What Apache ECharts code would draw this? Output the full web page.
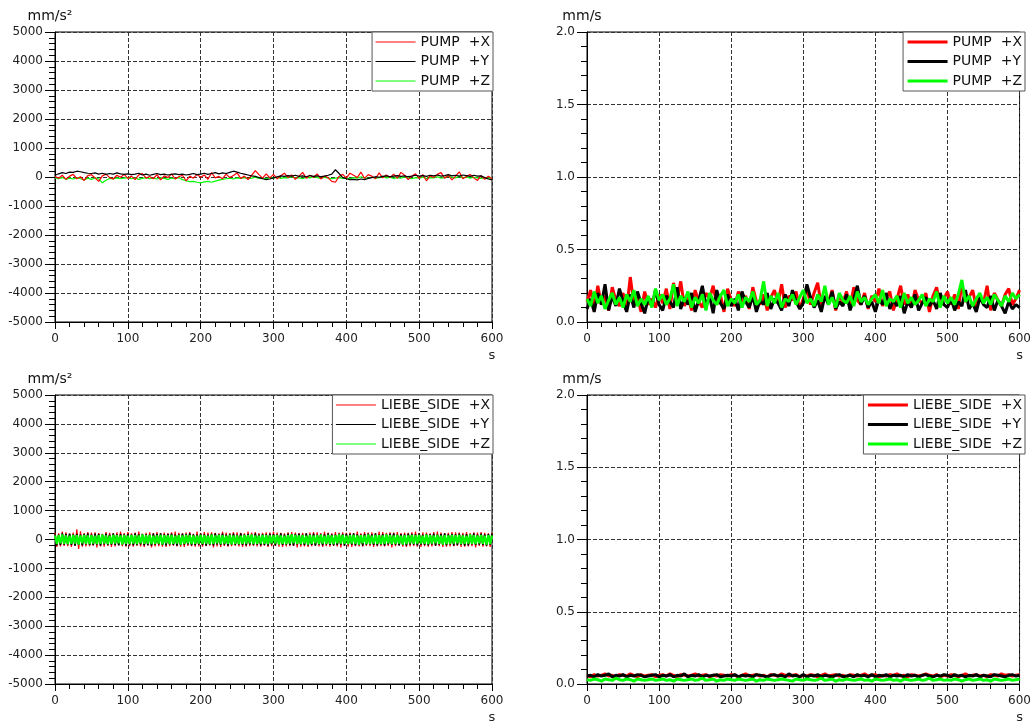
<!DOCTYPE html>
<html>
<head>
<meta charset="utf-8">
<script src="https://cdn.jsdelivr.net/npm/echarts@6/dist/echarts.min.js"></script>
<style>
  html, body { margin: 0; padding: 0; background: #fff; }
  #chart { width: 1034px; height: 724px; }
</style>
</head>
<body>
<div id="chart"></div>
<script>
// time stamps (s), 5 s step
const T = [0,5,10,15,20,25,30,35,40,45,50,55,60,65,70,75,80,85,90,95,
  100,105,110,115,120,125,130,135,140,145,150,155,160,165,170,175,180,185,190,195,
  200,205,210,215,220,225,230,235,240,245,250,255,260,265,270,275,280,285,290,295,
  300,305,310,315,320,325,330,335,340,345,350,355,360,365,370,375,380,385,390,395,
  400,405,410,415,420,425,430,435,440,445,450,455,460,465,470,475,480,485,490,495,
  500,505,510,515,520,525,530,535,540,545,550,555,560,565,570,575,580,585,590,595,600];

// time stamps (s), 2.5 s step, for the dense LIEBE_SIDE acceleration band
const T2 = [0,2.5,5,7.5,10,12.5,15,17.5,20,22.5,25,27.5,30,32.5,35,37.5,40,42.5,45,47.5,
  50,52.5,55,57.5,60,62.5,65,67.5,70,72.5,75,77.5,80,82.5,85,87.5,90,92.5,95,97.5,
  100,102.5,105,107.5,110,112.5,115,117.5,120,122.5,125,127.5,130,132.5,135,137.5,140,142.5,145,147.5,
  150,152.5,155,157.5,160,162.5,165,167.5,170,172.5,175,177.5,180,182.5,185,187.5,190,192.5,195,197.5,
  200,202.5,205,207.5,210,212.5,215,217.5,220,222.5,225,227.5,230,232.5,235,237.5,240,242.5,245,247.5,
  250,252.5,255,257.5,260,262.5,265,267.5,270,272.5,275,277.5,280,282.5,285,287.5,290,292.5,295,297.5,
  300,302.5,305,307.5,310,312.5,315,317.5,320,322.5,325,327.5,330,332.5,335,337.5,340,342.5,345,347.5,
  350,352.5,355,357.5,360,362.5,365,367.5,370,372.5,375,377.5,380,382.5,385,387.5,390,392.5,395,397.5,
  400,402.5,405,407.5,410,412.5,415,417.5,420,422.5,425,427.5,430,432.5,435,437.5,440,442.5,445,447.5,
  450,452.5,455,457.5,460,462.5,465,467.5,470,472.5,475,477.5,480,482.5,485,487.5,490,492.5,495,497.5,
  500,502.5,505,507.5,510,512.5,515,517.5,520,522.5,525,527.5,530,532.5,535,537.5,540,542.5,545,547.5,
  550,552.5,555,557.5,560,562.5,565,567.5,570,572.5,575,577.5,580,582.5,585,587.5,590,592.5,595,597.5,600];

// PUMP acceleration (mm/s²)
const pumpAccX = [20,-40,60,-80,30,90,-60,10,-120,50,80,-30,-150,40,100,-20,-70,60,-10,90,
  -50,30,-90,70,120,-40,20,-60,80,-100,40,-20,110,-70,10,60,-130,30,-40,90,
  -10,70,-80,150,-30,20,-60,100,-20,50,140,-50,30,-90,60,220,80,-40,110,-30,
  90,-60,40,130,-20,70,-80,30,160,-40,60,-10,110,-70,40,-30,-150,-180,20,90,
  -40,130,60,-20,170,-50,80,30,-60,140,-30,70,-20,100,-40,160,60,-90,30,110,
  -50,80,-130,40,-20,90,150,-40,60,-100,30,180,-60,20,90,-30,-120,50,-80,30,-60];
const pumpAccY = [60,110,150,120,170,160,200,180,150,130,120,140,100,130,90,120,100,140,110,90,
  110,80,100,130,70,100,60,90,120,80,100,70,90,110,80,100,70,90,120,80,
  100,130,90,120,150,110,140,120,160,200,170,130,100,70,40,20,-20,-60,-90,-70,
  -30,10,40,20,50,30,60,20,40,10,50,20,40,10,30,60,100,250,120,-20,
  -60,-90,-80,-100,-70,-90,-50,-20,10,-10,20,40,10,30,50,20,40,10,30,60,
  30,50,20,60,40,70,30,50,80,40,60,30,70,50,20,60,30,40,-20,-70,-100];
const pumpAccZ = [-30,-60,-20,-80,-40,-70,-20,-60,-100,-40,-80,-30,-60,-200,-110,-50,-70,-30,-60,-40,
  -20,-60,-30,-80,-50,-20,-60,-40,-70,-30,-50,-80,-40,-60,-20,-90,-130,-160,-150,-180,
  -200,-170,-150,-180,-140,-110,-80,-60,-40,-70,-30,-50,-20,-60,-40,-10,-50,-30,-60,-20,
  -40,-10,-50,-20,-30,10,-40,-20,-60,-10,-30,20,-20,-50,-10,-30,-60,-40,-20,-50,
  -30,-60,-20,-40,10,-30,-50,-10,-40,-20,20,-30,-10,-50,-20,-40,0,-30,-60,-20,
  -40,-10,-50,-20,-30,10,-40,-20,30,-10,-30,20,-20,0,-40,-10,-30,-50,-20,-40,-30];

// PUMP velocity (mm/s)
const pumpVelX = [0.14,0.22,0.10,0.25,0.12,0.18,0.08,0.24,0.15,0.11,0.20,0.09,0.31,0.13,0.17,0.07,0.21,0.12,0.16,0.10,
  0.19,0.13,0.23,0.09,0.27,0.15,0.28,0.11,0.18,0.08,0.22,0.14,0.10,0.20,0.16,0.25,0.12,0.19,0.07,0.23,
  0.15,0.11,0.21,0.13,0.18,0.09,0.24,0.14,0.12,0.19,0.08,0.17,0.22,0.13,0.26,0.10,0.18,0.15,0.21,0.09,
  0.16,0.24,0.12,0.20,0.27,0.11,0.17,0.14,0.22,0.08,0.19,0.13,0.21,0.10,0.24,0.15,0.12,0.20,0.09,0.18,
  0.14,0.23,0.11,0.17,0.21,0.08,0.16,0.25,0.12,0.19,0.10,0.22,0.15,0.13,0.20,0.07,0.18,0.24,0.11,0.16,
  0.21,0.12,0.19,0.09,0.26,0.14,0.17,0.22,0.10,0.18,0.13,0.25,0.08,0.20,0.15,0.11,0.19,0.23,0.12,0.16,0.22];
const pumpVelY = [0.09,0.16,0.07,0.20,0.12,0.26,0.08,0.18,0.11,0.23,0.14,0.07,0.19,0.10,0.21,0.13,0.06,0.17,0.11,0.22,
  0.12,0.08,0.18,0.14,0.10,0.24,0.09,0.17,0.12,0.20,0.07,0.15,0.25,0.11,0.18,0.06,0.22,0.13,0.09,0.19,
  0.11,0.16,0.08,0.21,0.14,0.10,0.18,0.07,0.15,0.12,0.20,0.09,0.16,0.13,0.08,0.19,0.11,0.22,0.14,0.09,
  0.13,0.26,0.17,0.10,0.15,0.07,0.18,0.12,0.21,0.09,0.14,0.11,0.19,0.08,0.16,0.25,0.12,0.18,0.10,0.14,
  0.07,0.16,0.12,0.20,0.09,0.15,0.11,0.18,0.06,0.14,0.10,0.19,0.08,0.13,0.17,0.11,0.15,0.09,0.20,0.12,
  0.10,0.16,0.08,0.14,0.11,0.22,0.09,0.13,0.07,0.17,0.12,0.10,0.18,0.08,0.15,0.11,0.06,0.14,0.09,0.12,0.10];
const pumpVelZ = [0.16,0.11,0.21,0.13,0.18,0.09,0.15,0.20,0.12,0.17,0.10,0.19,0.14,0.22,0.11,0.16,0.12,0.18,0.10,0.23,
  0.15,0.19,0.12,0.16,0.26,0.11,0.18,0.14,0.21,0.10,0.17,0.13,0.19,0.08,0.20,0.15,0.12,0.18,0.22,0.11,
  0.16,0.13,0.19,0.10,0.17,0.14,0.21,0.12,0.15,0.28,0.11,0.18,0.13,0.20,0.10,0.16,0.14,0.19,0.12,0.17,
  0.22,0.13,0.16,0.11,0.19,0.14,0.25,0.12,0.17,0.10,0.20,0.15,0.13,0.18,0.11,0.21,0.14,0.17,0.12,0.16,
  0.19,0.13,0.22,0.11,0.16,0.14,0.18,0.10,0.20,0.13,0.17,0.12,0.15,0.19,0.11,0.16,0.14,0.21,0.10,0.18,
  0.13,0.17,0.12,0.19,0.29,0.14,0.18,0.11,0.16,0.20,0.13,0.17,0.12,0.19,0.15,0.11,0.18,0.14,0.20,0.16,0.19];

// LIEBE_SIDE acceleration (mm/s²), 2.5 s step
const liebeAccX = [230,-260,210,-240,270,-220,250,-230,200,-260,240,-210,350,-330,280,-250,220,-240,260,-230,
  240,-210,250,-270,220,-240,200,-250,260,-220,230,-260,210,-240,250,-200,270,-230,220,-250,
  260,-230,210,-250,240,-220,270,-240,200,-260,230,-210,250,-270,220,-240,260,-230,210,-250,
  240,-260,220,-230,250,-210,270,-240,230,-250,210,-260,240,-220,260,-230,200,-250,270,-240,
  220,-250,260,-230,240,-210,250,-270,230,-240,210,-260,270,-220,240,-250,220,-230,260,-210,
  250,-240,230,-260,210,-250,270,-230,240,-220,260,-240,220,-250,230,-210,250,-260,240,-230,
  270,-220,240,-250,230,-260,210,-240,250,-230,260,-220,240,-270,220,-250,230,-240,210,-260,
  240,-230,260,-210,250,-240,220,-260,270,-230,240,-250,210,-220,260,-240,230,-270,250,-210,
  230,-250,240,-260,220,-230,270,-240,210,-250,260,-220,240,-230,250,-260,220,-240,270,-230,
  260,-240,230,-220,250,-270,240,-230,260,-210,220,-250,240,-260,230,-240,250,-220,270,-250,
  220,-260,250,-230,240,-250,210,-240,260,-220,270,-230,240,-260,220,-250,230,-240,260,-230,
  250,-220,240,-260,230,-250,260,-240,220,-230,250,-270,240,-220,260,-250,230,-240,210,-260,240];
const liebeAccY = [180,-200,170,-190,210,-180,190,-170,200,-190,180,-210,190,-180,170,-200,190,-170,210,-190,
  170,-190,200,-180,190,-210,180,-170,200,-190,170,-180,210,-190,180,-200,190,-170,180,-210,
  190,-180,170,-200,210,-190,180,-170,190,-200,180,-190,170,-210,200,-180,190,-170,210,-190,
  180,-200,190,-170,200,-190,170,-210,180,-190,200,-180,190,-170,210,-200,180,-190,170,-180,
  200,-190,180,-210,170,-180,190,-200,210,-170,180,-190,200,-180,170,-210,190,-180,200,-190,
  170,-180,210,-190,180,-200,190,-170,180,-190,210,-180,170,-200,190,-190,180,-210,200,-170,
  190,-200,180,-170,210,-190,170,-180,200,-190,180,-210,190,-170,200,-180,170,-190,210,-200,
  180,-190,200,-210,170,-180,190,-200,180,-170,210,-190,180,-200,170,-190,200,-180,190,-210,
  200,-170,190,-180,210,-200,180,-190,170,-210,190,-180,200,-170,180,-190,210,-200,170,-180,
  190,-210,180,-170,200,-190,210,-180,170,-200,190,-190,180,-210,200,-170,190,-180,180,-200,
  210,-180,170,-190,190,-200,180,-170,200,-210,170,-180,190,-190,210,-200,180,-170,190,-210,
  180,-190,200,-180,170,-210,190,-200,180,-170,210,-190,170,-180,200,-190,180,-210,190,-180,200];
const liebeAccZ = [140,-160,150,-130,170,-150,140,-160,130,-150,160,-140,150,-170,140,-130,160,-150,140,-160,
  150,-140,130,-160,150,-150,170,-140,140,-160,130,-150,160,-140,150,-130,140,-170,160,-150,
  130,-150,160,-140,150,-160,140,-130,170,-150,150,-140,160,-160,130,-150,140,-140,160,-170,
  150,-130,140,-160,160,-150,130,-140,150,-170,140,-150,160,-130,150,-160,140,-150,130,-140,
  160,-150,150,-140,130,-160,170,-150,140,-130,160,-160,150,-140,130,-150,160,-170,140,-150,
  140,-160,130,-150,160,-140,150,-130,170,-160,140,-150,130,-140,160,-150,150,-160,140,-130,
  150,-140,160,-170,140,-150,130,-160,150,-140,170,-130,160,-150,140,-160,150,-140,130,-170,
  160,-150,140,-130,150,-160,170,-140,130,-150,160,-150,140,-160,150,-130,170,-140,160,-150,
  130,-160,150,-140,160,-150,140,-170,150,-130,140,-160,170,-150,130,-140,160,-150,150,-160,
  140,-150,170,-130,150,-160,140,-150,160,-140,130,-170,150,-160,140,-130,160,-150,150,-140,
  160,-140,130,-150,170,-160,150,-140,140,-130,160,-150,130,-170,150,-160,140,-150,160,-140,
  150,-130,160,-160,140,-150,130,-140,170,-150,150,-160,140,-130,160,-150,130,-170,150,-160,140];

// LIEBE_SIDE velocity (mm/s)
const liebeVelX = [0.06,0.05,0.065,0.055,0.06,0.07,0.055,0.06,0.05,0.065,0.06,0.055,0.07,0.06,0.05,0.065,0.055,0.06,0.065,0.05,
  0.06,0.065,0.055,0.07,0.06,0.05,0.065,0.06,0.055,0.06,0.07,0.055,0.06,0.065,0.05,0.06,0.055,0.065,0.06,0.055,
  0.065,0.06,0.05,0.06,0.07,0.055,0.06,0.065,0.055,0.06,0.05,0.065,0.06,0.055,0.07,0.06,0.055,0.06,0.065,0.05,
  0.06,0.055,0.065,0.06,0.05,0.06,0.07,0.055,0.06,0.065,0.055,0.06,0.05,0.065,0.06,0.055,0.06,0.07,0.055,0.06,
  0.065,0.05,0.06,0.055,0.065,0.06,0.07,0.055,0.06,0.05,0.065,0.06,0.055,0.06,0.07,0.06,0.055,0.065,0.05,0.06,
  0.055,0.065,0.06,0.05,0.06,0.07,0.055,0.06,0.065,0.055,0.06,0.05,0.065,0.06,0.055,0.07,0.06,0.065,0.055,0.06,0.065];
const liebeVelY = [0.055,0.06,0.05,0.065,0.055,0.06,0.07,0.05,0.06,0.055,0.065,0.05,0.06,0.055,0.065,0.06,0.05,0.055,0.06,0.065,
  0.05,0.06,0.055,0.065,0.05,0.06,0.055,0.07,0.05,0.06,0.055,0.065,0.05,0.06,0.055,0.06,0.065,0.05,0.055,0.06,
  0.055,0.065,0.05,0.06,0.055,0.06,0.05,0.065,0.06,0.055,0.05,0.06,0.065,0.055,0.06,0.05,0.07,0.055,0.06,0.05,
  0.065,0.05,0.06,0.055,0.065,0.05,0.06,0.055,0.05,0.06,0.065,0.05,0.055,0.06,0.05,0.065,0.055,0.06,0.05,0.065,
  0.05,0.06,0.055,0.065,0.05,0.06,0.055,0.06,0.05,0.065,0.055,0.06,0.05,0.06,0.065,0.055,0.05,0.06,0.055,0.065,
  0.06,0.05,0.065,0.055,0.06,0.05,0.06,0.055,0.065,0.05,0.06,0.055,0.05,0.065,0.06,0.055,0.05,0.06,0.065,0.055,0.06];
const liebeVelZ = [0.03,0.025,0.035,0.03,0.02,0.035,0.03,0.025,0.04,0.03,0.025,0.035,0.03,0.02,0.035,0.03,0.025,0.03,0.035,0.025,
  0.03,0.035,0.025,0.03,0.02,0.035,0.03,0.025,0.03,0.035,0.025,0.03,0.04,0.025,0.03,0.035,0.02,0.03,0.025,0.035,
  0.03,0.025,0.035,0.03,0.025,0.03,0.035,0.02,0.03,0.025,0.035,0.03,0.025,0.03,0.035,0.03,0.025,0.02,0.035,0.03,
  0.025,0.035,0.03,0.025,0.03,0.04,0.025,0.03,0.035,0.02,0.03,0.025,0.035,0.03,0.025,0.03,0.035,0.025,0.03,0.02,
  0.035,0.03,0.025,0.03,0.035,0.025,0.03,0.02,0.035,0.03,0.025,0.03,0.035,0.025,0.03,0.04,0.025,0.03,0.035,0.025,
  0.03,0.025,0.035,0.03,0.02,0.03,0.035,0.025,0.03,0.035,0.025,0.03,0.02,0.035,0.03,0.025,0.03,0.035,0.025,0.03,0.035];

const pumpNames = ['PUMP  +X', 'PUMP  +Y', 'PUMP  +Z'];
const liebeNames = ['LIEBE_SIDE  +X', 'LIEBE_SIDE  +Y', 'LIEBE_SIDE  +Z'];
const colors = ['#ff0000', '#000000', '#00ff00'];

const FONT = 'DejaVu Sans';

function pairs(times, vals) {
  return times.map((t, i) => [t, vals[i]]);
}

function makeXAxis(gridIndex) {
  return {
    type: 'value', gridIndex: gridIndex, min: 0, max: 600, interval: 100,
    name: 's', nameLocation: 'end', nameGap: 0,
    nameTextStyle: { fontFamily: FONT, fontSize: 13, color: '#222', align: 'center', verticalAlign: 'top', padding: [27, 0, 0, 0] },
    axisLine: { onZero: false, lineStyle: { color: '#000', width: 1 } },
    axisTick: { length: 7, lineStyle: { color: '#000' } },
    minorTick: { show: true, splitNumber: 5, length: 5, lineStyle: { color: '#000' } },
    axisLabel: { fontFamily: FONT, fontSize: 12, color: '#222', margin: 11 },
    splitLine: { show: true, lineStyle: { color: '#333', type: [4, 2] } }
  };
}

function makeYAxis(gridIndex, min, max, interval, unit, digits) {
  return {
    type: 'value', gridIndex: gridIndex, min: min, max: max, interval: interval,
    name: unit, nameLocation: 'end', nameGap: 9,
    nameTextStyle: { fontFamily: FONT, fontSize: 14, color: '#111', padding: [0, 10, 0, 0] },
    axisLine: { show: true, lineStyle: { color: '#000', width: 1 } },
    axisTick: { show: true, length: 10, lineStyle: { color: '#000' } },
    minorTick: { show: true, splitNumber: 5, length: 6, lineStyle: { color: '#000' } },
    axisLabel: { fontFamily: FONT, fontSize: 12, color: '#222', margin: 12,
      formatter: v => v.toFixed(digits) },
    splitLine: { show: true, lineStyle: { color: '#333', type: [4, 2] } }
  };
}

function makeLegend(names, right, top, width) {
  return {
    orient: 'vertical', right: right, top: top, data: names,
    itemWidth: 40, itemHeight: 14, itemGap: 5.5,
    padding: [3, 3, 3, 3],
    borderColor: '#555', borderWidth: 1, backgroundColor: '#fff', borderRadius: 0,
    lineStyle: { width: width },
    itemStyle: { opacity: 0 },
    textStyle: { fontFamily: FONT, fontSize: 14, color: '#111' },
    selectedMode: false
  };
}

function makeSeries(names, times, sets, idx, widths, zOrder) {
  return names.map((n, i) => ({
    name: n, type: 'line', xAxisIndex: idx, yAxisIndex: idx,
    data: pairs(times, sets[i]), symbol: 'none', showSymbol: false, silent: true,
    z: zOrder[i],
    lineStyle: { color: colors[i], width: widths[i] },
    itemStyle: { color: colors[i] }
  }));
}

const chart = echarts.init(document.getElementById('chart'));
const option = {
  animation: false,
  backgroundColor: '#fff',
  grid: [
    { left: 55, top: 32, width: 437, height: 290, show: true, borderColor: '#000', borderWidth: 1 },
    { left: 587, top: 32, width: 437, height: 290, show: true, borderColor: '#000', borderWidth: 1 },
    { left: 55, top: 395, width: 437, height: 291, show: true, borderColor: '#000', borderWidth: 1 },
    { left: 587, top: 395, width: 437, height: 290, show: true, borderColor: '#000', borderWidth: 1 }
  ],
  xAxis: [makeXAxis(0), makeXAxis(1), makeXAxis(2), makeXAxis(3)],
  yAxis: [
    makeYAxis(0, -5000, 5000, 1000, 'mm/s²', 0),
    makeYAxis(1, 0, 2, 0.5, 'mm/s', 1),
    makeYAxis(2, -5000, 5000, 1000, 'mm/s²', 0),
    makeYAxis(3, 0, 2, 0.5, 'mm/s', 1)
  ],
  legend: [
    makeLegend(pumpNames, 541, 32, 1),
    makeLegend(pumpNames, 9, 32, 3),
    makeLegend(liebeNames, 541, 395, 1),
    makeLegend(liebeNames, 9, 395, 3)
  ],
  series: [
    ...makeSeries(pumpNames, T, [pumpAccX, pumpAccY, pumpAccZ], 0, [1.2, 1.2, 1.2], [3, 4, 2]),
    ...makeSeries(pumpNames, T, [pumpVelX, pumpVelY, pumpVelZ], 1, [3, 3, 3], [2, 3, 4]),
    ...makeSeries(liebeNames, T2, [liebeAccX, liebeAccY, liebeAccZ], 2, [1.2, 1.6, 2.2], [2, 3, 4]),
    ...makeSeries(liebeNames, T, [liebeVelX, liebeVelY, liebeVelZ], 3, [3, 3, 3], [2, 3, 4])
  ]
};
chart.setOption(option);
</script>
</body>
</html>
